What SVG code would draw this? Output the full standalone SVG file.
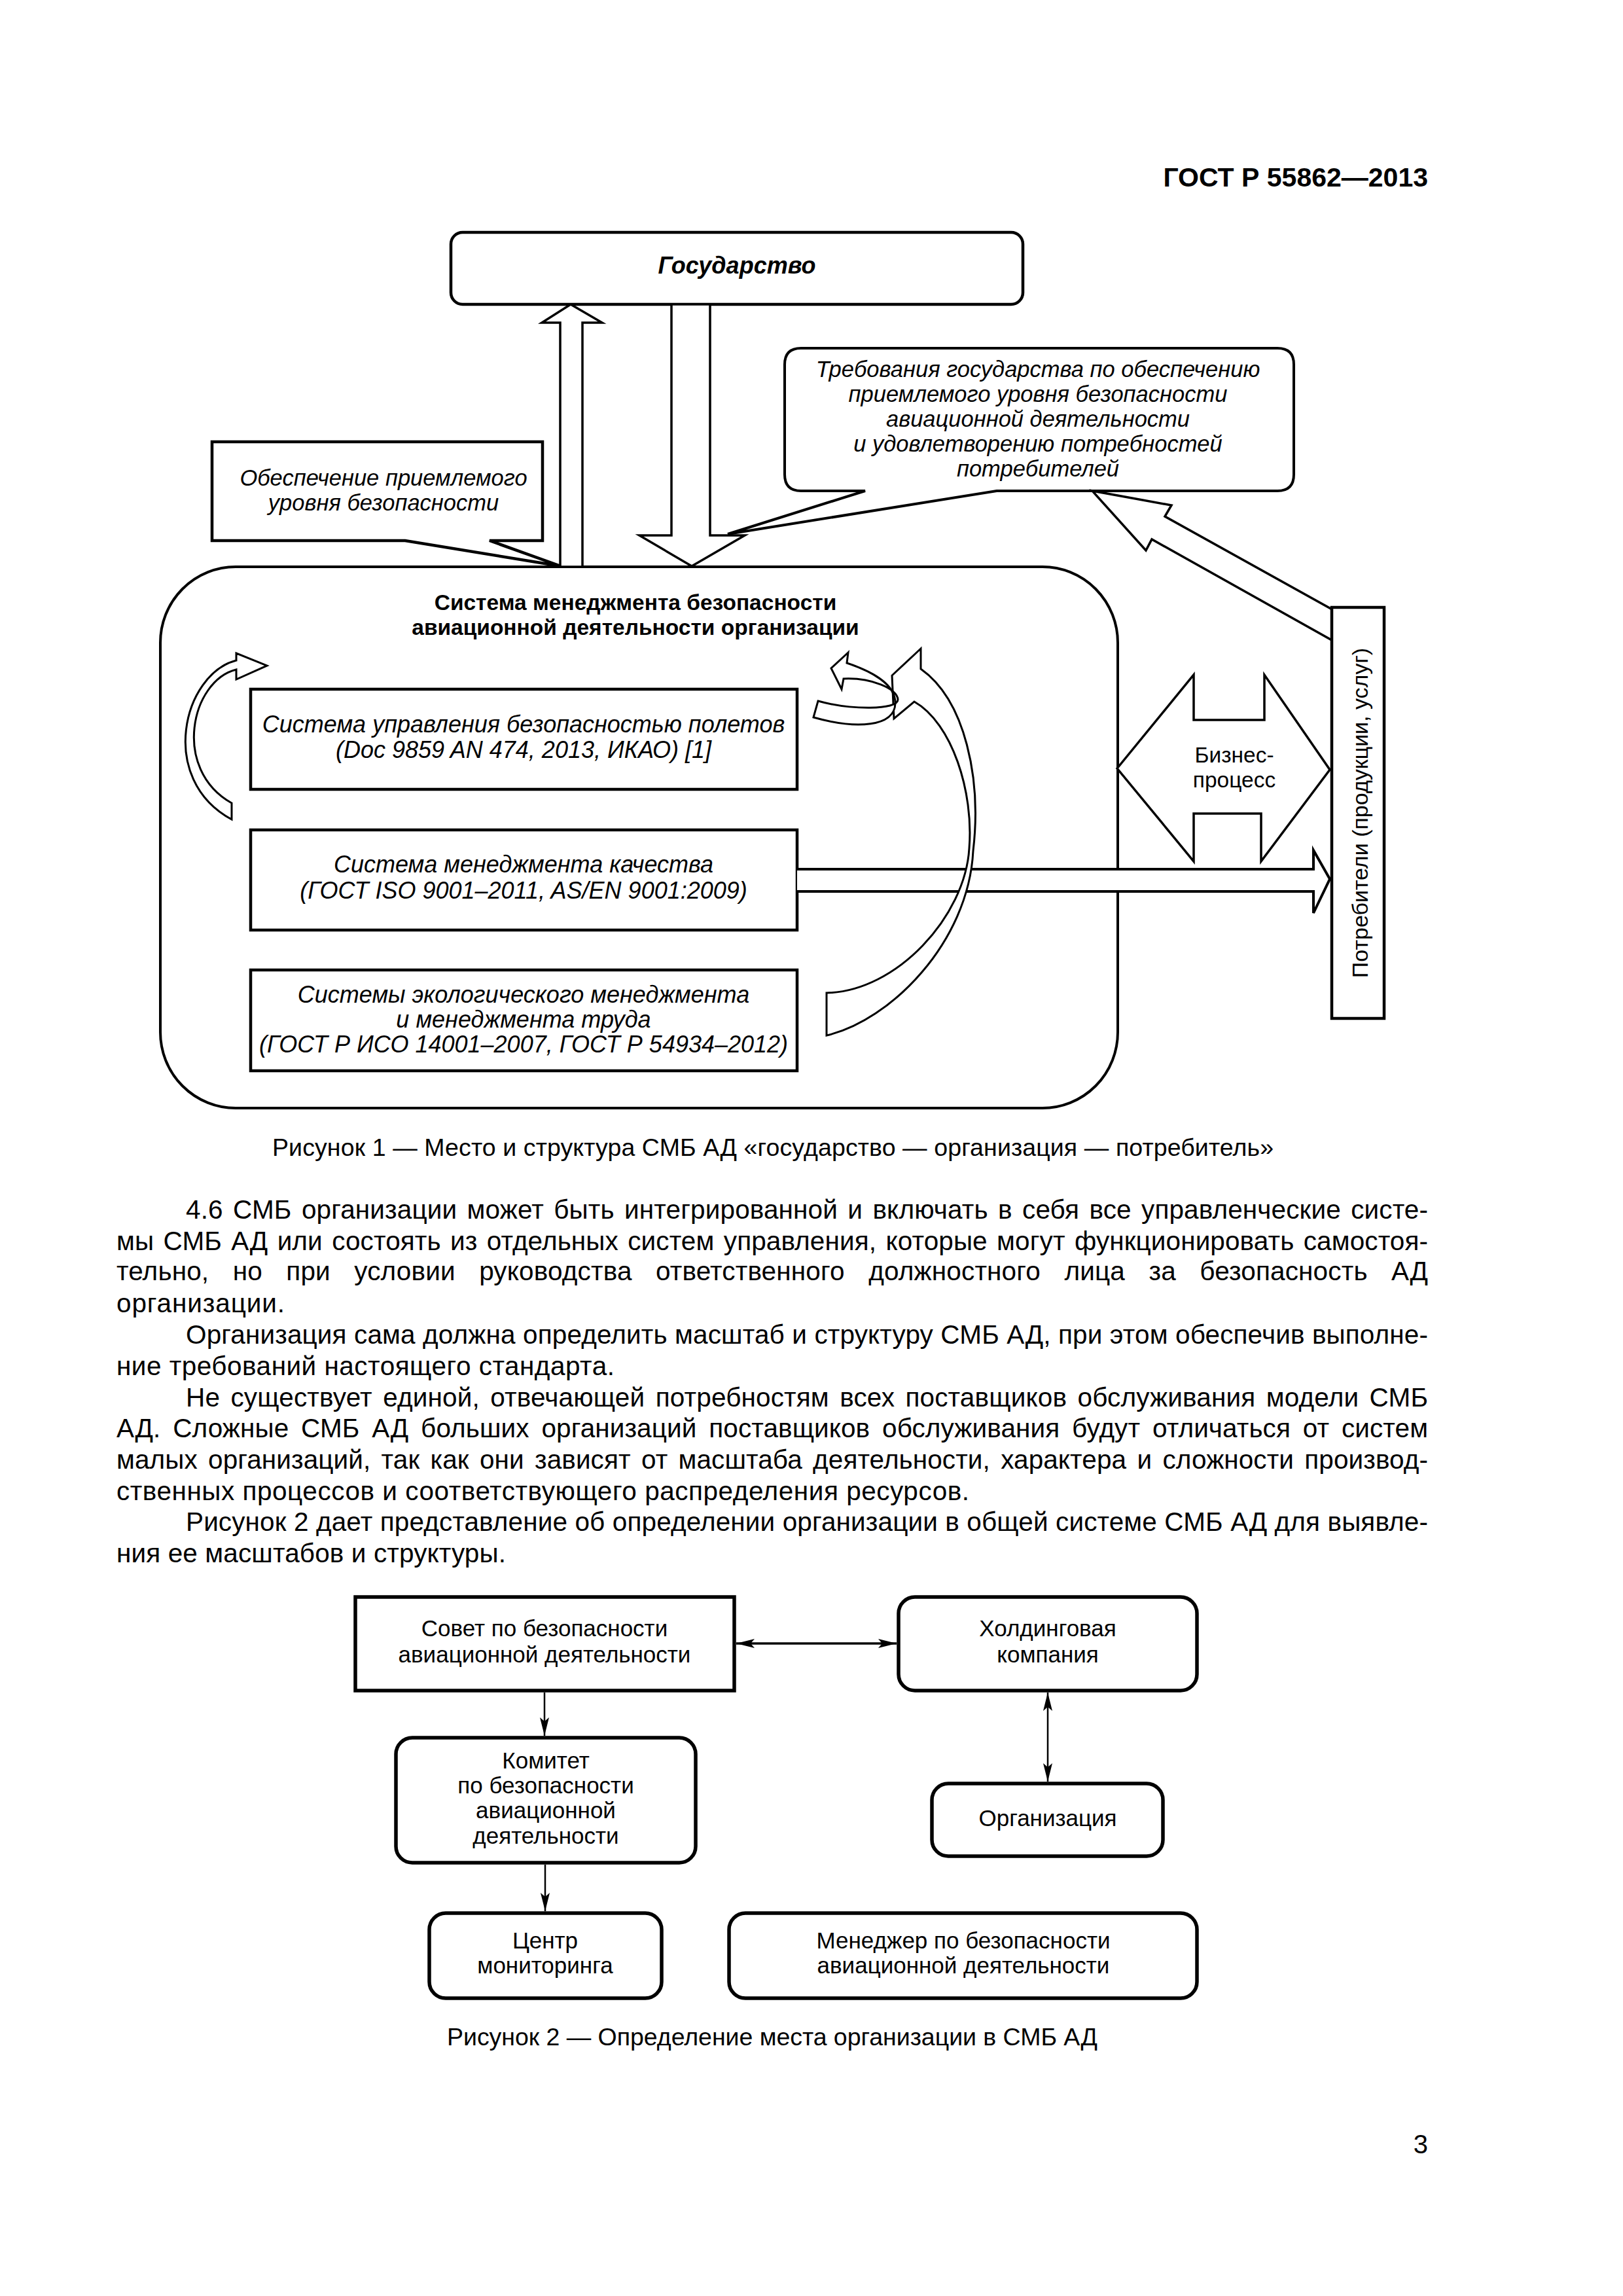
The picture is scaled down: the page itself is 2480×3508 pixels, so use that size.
<svg xmlns="http://www.w3.org/2000/svg" width="2480" height="3508" viewBox="0 0 2480 3508">
<defs>
<style>
.t{font-family:"Liberation Sans",Arial,sans-serif;fill:#000}
.it{font-style:italic;font-size:34.5px}
.ib{font-style:italic;font-size:36px}
.b{font-weight:bold}
.m{text-anchor:middle}
.body{font-size:40.5px}
.cap{font-size:37.5px}
.f2{font-size:35px;text-anchor:middle}
.bx{fill:#fff;stroke:#000;stroke-width:4.5}
.bx2{fill:#fff;stroke:#000;stroke-width:5.5}
.ar{fill:#fff;stroke:#000;stroke-width:3.5;stroke-linejoin:miter}
.cv{fill:#fff;stroke:#000;stroke-width:3}
.ln{fill:none;stroke:#000}
</style>
<marker id="ah" viewBox="-30 -10 32 20" refX="0" refY="0" markerWidth="32" markerHeight="20" markerUnits="userSpaceOnUse" orient="auto-start-reverse">
<path d="M0,0 L-28,-7 L-22,0 L-28,7 Z" fill="#000"/>
</marker>
</defs>
<rect x="0" y="0" width="2480" height="3508" fill="#fff"/>

<text class="t b" x="2182" y="285" font-size="41" text-anchor="end">ГОСТ Р 55862—2013</text>

<!-- Figure 1 -->
<g id="main-box">
<rect x="245" y="866" width="1463" height="827" rx="115" ry="116" fill="#fff" stroke="#000" stroke-width="4"/>
<text class="t b m" x="971" y="932" font-size="33.5">Система менеджмента безопасности</text>
<text class="t b m" x="971" y="970" font-size="33.5">авиационной деятельности организации</text>
</g>

<g id="state">
<rect class="bx" x="689" y="355" width="874" height="110" rx="18"/>
<text class="t b m" x="1126" y="418" font-size="36" font-style="italic">Государство</text>
</g>

<g id="callout-left">
<path class="bx" d="M324,675 H829 V826 H748 L857,865 L619,826 H324 Z"/>
<text class="t it m" x="586" y="742">Обеспечение приемлемого</text>
<text class="t it m" x="586" y="780">уровня безопасности</text>
</g>

<g id="callout-right">
<path fill="#fff" stroke="#000" stroke-width="4" d="M1224,532 H1952 Q1977,532 1977,557 V725 Q1977,750 1952,750 H1523 L1112,816 L1322,750 H1224 Q1199,750 1199,725 V557 Q1199,532 1224,532 Z"/>
<text class="t it m" x="1586" y="576">Требования государства по обеспечению</text>
<text class="t it m" x="1586" y="614">приемлемого уровня безопасности</text>
<text class="t it m" x="1586" y="652">авиационной деятельности</text>
<text class="t it m" x="1586" y="690">и удовлетворению потребностей</text>
<text class="t it m" x="1586" y="728">потребителей</text>
</g>

<g id="box-subp">
<rect class="bx" x="383" y="1053" width="835" height="153"/>
<text class="t ib m" x="800" y="1119">Система управления безопасностью полетов</text>
<text class="t ib m" x="800" y="1158">(Doc 9859 AN 474, 2013, ИКАО) [1]</text>
</g>
<g id="box-smk">
<rect class="bx" x="383" y="1268" width="835" height="153"/>
<text class="t ib m" x="800" y="1333">Система менеджмента качества</text>
<text class="t ib m" x="800" y="1373">(ГОСТ ISO 9001–2011, AS/EN 9001:2009)</text>
</g>
<g id="box-eco">
<rect class="bx" x="383" y="1482" width="835" height="154"/>
<text class="t ib m" x="800" y="1532">Системы экологического менеджмента</text>
<text class="t ib m" x="800" y="1570">и менеджмента труда</text>
<text class="t ib m" x="800" y="1608">(ГОСТ Р ИСО 14001–2007, ГОСТ Р 54934–2012)</text>
</g>

<g id="connectors-fig1">
<path class="ar" d="M856,866 V493 H828 L872,465 L920,493 H890 V866 Z"/>
<path class="ar" d="M1026,465 V818 H977 L1057,865 L1138,818 H1085 V465 Z"/>
<path class="ar" d="M2035,978 L1760,824 L1751,841 L1669,750 L1790,772 L1780,789 L2055,942 Z"/>
<path class="ar" d="M1707,1174 L1824,1031 V1100 H1932 V1031 L2032,1176 L1927,1316 V1243 H1824 V1316 Z"/>
<path fill="#fff" stroke="#000" stroke-width="4" d="M1218,1328 H2007 V1299 L2032,1343 L2007,1395 V1362 H1218"/>
<path class="cv" d="M354,1252 C240,1190 280,1030 361,1009 L361,998 L408,1017 L361,1038 L361,1023 C292,1040 262,1175 354,1227 Z"/>
<path class="cv" d="M1407,991 L1363,1032 L1366,1098 L1397,1072 C1455,1105 1488,1210 1481,1296 C1475,1400 1370,1515 1263,1517 L1263,1582 C1360,1560 1480,1440 1487,1300 C1500,1190 1475,1070 1407,1022 Z"/>
<path class="cv" d="M1296,997 L1270,1021 L1286,1053 L1289,1037 C1330,1035 1372,1052 1372,1069 C1372,1085 1300,1085 1250,1071 L1243,1096 C1310,1115 1367,1110 1368,1075 C1369,1045 1330,1025 1294,1013 Z"/>
</g>

<g id="business">
<text class="t m" x="1886" y="1165" font-size="33.5">Бизнес-</text>
<text class="t m" x="1886" y="1203" font-size="33.5">процесс</text>
</g>

<g id="consumers">
<rect class="bx" x="2035" y="928" width="80" height="628"/>
<text class="t m" x="2090" y="1242" font-size="34" transform="rotate(-90 2090 1242)">Потребители (продукции, услуг)</text>
</g>

<text class="t cap m" x="1181" y="1766" textLength="1530">Рисунок 1 — Место и структура СМБ АД «государство — организация — потребитель»</text>

<g id="body-text" class="t body">
<text x="284" y="1862" textLength="1898" word-spacing="4">4.6 СМБ организации может быть интегрированной и включать в себя все управленческие систе-</text>
<text x="178" y="1910" textLength="2004" word-spacing="3">мы СМБ АД или состоять из отдельных систем управления, которые могут функционировать самостоя-</text>
<text x="178" y="1956" textLength="2004" word-spacing="25">тельно, но при условии руководства ответственного должностного лица за безопасность АД</text>
<text x="178" y="2005" textLength="257">организации.</text>
<text x="284" y="2053" textLength="1898">Организация сама должна определить масштаб и структуру СМБ АД, при этом обеспечив выполне-</text>
<text x="178" y="2101" textLength="761">ние требований настоящего стандарта.</text>
<text x="284" y="2149" textLength="1898" word-spacing="5">Не существует единой, отвечающей потребностям всех поставщиков обслуживания модели СМБ</text>
<text x="178" y="2196" textLength="2004" word-spacing="7.5">АД. Сложные СМБ АД больших организаций поставщиков обслуживания будут отличаться от систем</text>
<text x="178" y="2244" textLength="2004" word-spacing="5">малых организаций, так как они зависят от масштаба деятельности, характера и сложности производ-</text>
<text x="178" y="2292" textLength="1303">ственных процессов и соответствующего распределения ресурсов.</text>
<text x="284" y="2339" textLength="1898">Рисунок 2 дает представление об определении организации в общей системе СМБ АД для выявле-</text>
<text x="178" y="2387" textLength="595">ния ее масштабов и структуры.</text>
</g>

<!-- Figure 2 -->
<g id="sovet">
<rect class="bx2" x="543" y="2440" width="579" height="143"/>
<text class="t f2" x="832" y="2500">Совет по безопасности</text>
<text class="t f2" x="832" y="2540">авиационной деятельности</text>
</g>
<g id="holding">
<rect class="bx2" x="1373" y="2440" width="456" height="143" rx="25"/>
<text class="t f2" x="1601" y="2500">Холдинговая</text>
<text class="t f2" x="1601" y="2540">компания</text>
</g>
<g id="komitet">
<rect class="bx2" x="605" y="2655" width="458" height="191" rx="25"/>
<text class="t f2" x="834" y="2702">Комитет</text>
<text class="t f2" x="834" y="2740">по безопасности</text>
<text class="t f2" x="834" y="2778">авиационной</text>
<text class="t f2" x="834" y="2817">деятельности</text>
</g>
<g id="organizacia">
<rect class="bx2" x="1424" y="2725" width="353" height="111" rx="25"/>
<text class="t f2" x="1601" y="2790">Организация</text>
</g>
<g id="centr">
<rect class="bx2" x="656" y="2923" width="355" height="130" rx="25"/>
<text class="t f2" x="833" y="2977">Центр</text>
<text class="t f2" x="833" y="3015">мониторинга</text>
</g>
<g id="manager">
<rect class="bx2" x="1114" y="2923" width="715" height="130" rx="25"/>
<text class="t f2" x="1472" y="2977">Менеджер по безопасности</text>
<text class="t f2" x="1472" y="3015">авиационной деятельности</text>
</g>

<g id="connectors-fig2">
<line class="ln" x1="1125" y1="2511" x2="1370" y2="2511" stroke-width="3.5" marker-start="url(#ah)" marker-end="url(#ah)"/>
<line class="ln" x1="832" y1="2586" x2="832" y2="2652" stroke-width="2.5" marker-end="url(#ah)"/>
<line class="ln" x1="833" y1="2849" x2="833" y2="2920" stroke-width="2.5" marker-end="url(#ah)"/>
<line class="ln" x1="1601" y1="2586" x2="1601" y2="2722" stroke-width="2.5" marker-start="url(#ah)" marker-end="url(#ah)"/>
</g>

<text class="t cap m" x="1180" y="3125" textLength="994">Рисунок 2 — Определение места организации в СМБ АД</text>

<text class="t" x="2182" y="3290" font-size="40" text-anchor="end">3</text>
</svg>
